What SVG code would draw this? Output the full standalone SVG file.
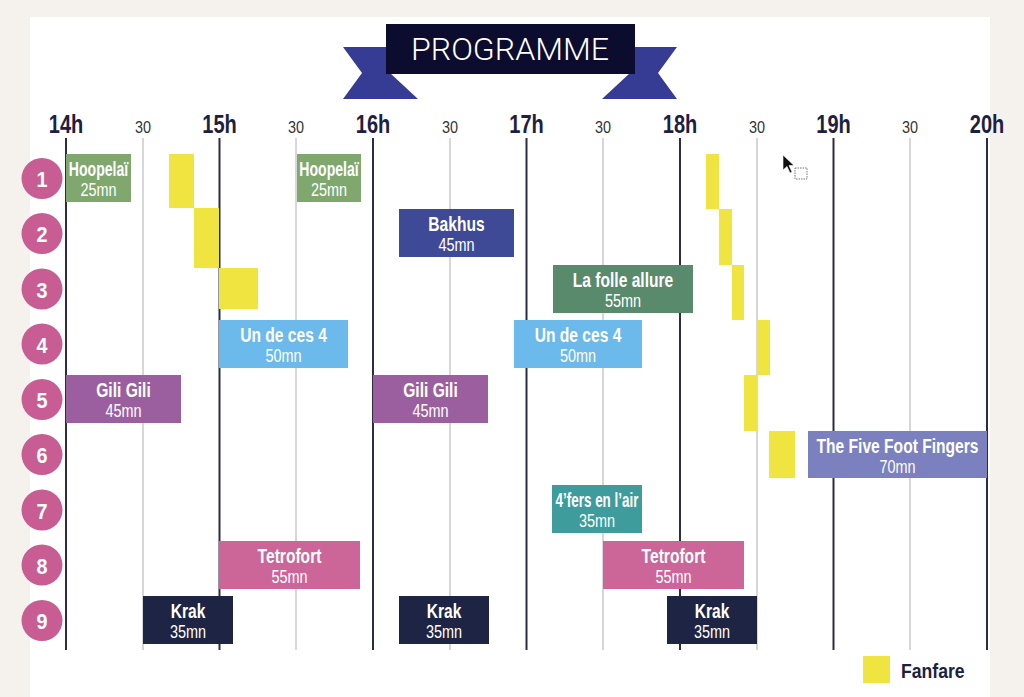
<svg xmlns="http://www.w3.org/2000/svg" width="1024" height="697" viewBox="0 0 1024 697">
<style>
.hr{font-family:"Liberation Sans",Arial,sans-serif;font-weight:bold;font-size:25px;fill:#1e2040;text-anchor:middle}
.hh{font-family:"Liberation Sans",Arial,sans-serif;font-size:17px;fill:#333;text-anchor:middle}
.hl{stroke:#2a2d45;stroke-width:2}
.ml{stroke:#bdbdbd;stroke-width:1.2}
.nm{font-family:"Liberation Sans",Arial,sans-serif;font-weight:bold;font-size:19.5px;fill:#fff;text-anchor:middle}
.du{font-family:"Liberation Sans",Arial,sans-serif;font-size:19px;fill:#fff;text-anchor:middle}
.num{font-family:"Liberation Sans",Arial,sans-serif;font-weight:bold;font-size:22px;fill:#fff;text-anchor:middle}
.circ{fill:#c75d93}
.fan{fill:#f0e540}
.green{fill:#80a86e}
.bakhus{fill:#3f4a96}
.folle{fill:#5a8a6c}
.blue{fill:#6cb9ec}
.gili{fill:#9b5f9f}
.five{fill:#7b80bf}
.fers{fill:#3e9c9c}
.tetro{fill:#cc6598}
.krak{fill:#1e2444}
</style>
<rect x="0" y="0" width="1024" height="697" fill="#f5f2ee"/>
<rect x="30" y="17" width="960" height="680" fill="#ffffff"/>

<g id="banner">
  <polygon points="343,47 390,47 390,73 418,99 343,99 362,73" fill="#363c94"/>
  <polygon points="677,47 630,47 630,73 602,99 677,99 658,73" fill="#363c94"/>
  <rect x="386" y="24" width="249" height="50" fill="#0c0c2e"/>
  <text x="510" y="60" textLength="198" lengthAdjust="spacingAndGlyphs" font-family="Roboto,'Liberation Sans',sans-serif" font-weight="300" font-size="32" fill="#ffffff" text-anchor="middle">PROGRAMME</text>
</g>

<g id="axis">
  <line class="ml" x1="143" y1="138" x2="143" y2="650"/>
  <line class="ml" x1="296" y1="138" x2="296" y2="650"/>
  <line class="ml" x1="450" y1="138" x2="450" y2="650"/>
  <line class="ml" x1="603" y1="138" x2="603" y2="650"/>
  <line class="ml" x1="757" y1="138" x2="757" y2="650"/>
  <line class="ml" x1="910" y1="138" x2="910" y2="650"/>
  <line class="hl" x1="66" y1="138" x2="66" y2="650"/>
  <line class="hl" x1="219.5" y1="138" x2="219.5" y2="650"/>
  <line class="hl" x1="373" y1="138" x2="373" y2="650"/>
  <line class="hl" x1="526.5" y1="138" x2="526.5" y2="650"/>
  <line class="hl" x1="680" y1="138" x2="680" y2="650"/>
  <line class="hl" x1="833.5" y1="138" x2="833.5" y2="650"/>
  <line class="hl" x1="987" y1="138" x2="987" y2="650"/>
  <text class="hr" transform="translate(66,133) scale(0.8,1)">14h</text>
  <text class="hr" transform="translate(219.5,133) scale(0.8,1)">15h</text>
  <text class="hr" transform="translate(373,133) scale(0.8,1)">16h</text>
  <text class="hr" transform="translate(526.5,133) scale(0.8,1)">17h</text>
  <text class="hr" transform="translate(680,133) scale(0.8,1)">18h</text>
  <text class="hr" transform="translate(833.5,133) scale(0.8,1)">19h</text>
  <text class="hr" transform="translate(987,133) scale(0.8,1)">20h</text>
  <text class="hh" transform="translate(143,133) scale(0.85,1)">30</text>
  <text class="hh" transform="translate(296,133) scale(0.85,1)">30</text>
  <text class="hh" transform="translate(450,133) scale(0.85,1)">30</text>
  <text class="hh" transform="translate(603,133) scale(0.85,1)">30</text>
  <text class="hh" transform="translate(757,133) scale(0.85,1)">30</text>
  <text class="hh" transform="translate(910,133) scale(0.85,1)">30</text>
</g>

<g id="rows">
  <circle class="circ" cx="42" cy="178.5" r="20.5"/><text class="num" transform="translate(42,187) scale(0.9,1)">1</text>
  <circle class="circ" cx="42" cy="233.5" r="20.5"/><text class="num" transform="translate(42,242) scale(0.9,1)">2</text>
  <circle class="circ" cx="42" cy="289" r="20.5"/><text class="num" transform="translate(42,297.5) scale(0.9,1)">3</text>
  <circle class="circ" cx="42" cy="344" r="20.5"/><text class="num" transform="translate(42,352.5) scale(0.9,1)">4</text>
  <circle class="circ" cx="42" cy="399.5" r="20.5"/><text class="num" transform="translate(42,408) scale(0.9,1)">5</text>
  <circle class="circ" cx="42" cy="454.5" r="20.5"/><text class="num" transform="translate(42,463) scale(0.9,1)">6</text>
  <circle class="circ" cx="42" cy="510" r="20.5"/><text class="num" transform="translate(42,518.5) scale(0.9,1)">7</text>
  <circle class="circ" cx="42" cy="565" r="20.5"/><text class="num" transform="translate(42,573.5) scale(0.9,1)">8</text>
  <circle class="circ" cx="42" cy="620.5" r="20.5"/><text class="num" transform="translate(42,629) scale(0.9,1)">9</text>
</g>

<g id="fanfares">
  <rect class="fan" x="169" y="154" width="25" height="54"/>
  <rect class="fan" x="194" y="208" width="25" height="60"/>
  <rect class="fan" x="219" y="268" width="39" height="41"/>
  <rect class="fan" x="706" y="154" width="13" height="55"/>
  <rect class="fan" x="719" y="209" width="13" height="56"/>
  <rect class="fan" x="732" y="265" width="12" height="55"/>
  <rect class="fan" x="757" y="320" width="13" height="55"/>
  <rect class="fan" x="744" y="375" width="13" height="56"/>
  <rect class="fan" x="769" y="431" width="26" height="47"/>
</g>

<g id="hoopelai-1"><rect class="green" x="66" y="154" width="65" height="48"/><text class="nm" transform="translate(98.5,175.5) scale(0.72,1)">Hoopelaï</text><text class="du" transform="translate(98.5,195.5) scale(0.76,1)">25mn</text></g>
<g id="hoopelai-2"><rect class="green" x="297" y="154" width="64" height="48"/><text class="nm" transform="translate(329,175.5) scale(0.72,1)">Hoopelaï</text><text class="du" transform="translate(329,195.5) scale(0.76,1)">25mn</text></g>
<g id="bakhus"><rect class="bakhus" x="399" y="209" width="115" height="48"/><text class="nm" transform="translate(456.5,231) scale(0.8,1)">Bakhus</text><text class="du" transform="translate(456.5,251) scale(0.76,1)">45mn</text></g>
<g id="folle-allure"><rect class="folle" x="553" y="265" width="140" height="48"/><text class="nm" transform="translate(623,286.5) scale(0.8,1)">La folle allure</text><text class="du" transform="translate(623,306.5) scale(0.76,1)">55mn</text></g>
<g id="undeces4-1"><rect class="blue" x="219" y="320" width="129" height="48"/><text class="nm" transform="translate(283.5,341.5) scale(0.8,1)">Un de ces 4</text><text class="du" transform="translate(283.5,361.5) scale(0.76,1)">50mn</text></g>
<g id="undeces4-2"><rect class="blue" x="514" y="320" width="128" height="48"/><text class="nm" transform="translate(578,341.5) scale(0.8,1)">Un de ces 4</text><text class="du" transform="translate(578,361.5) scale(0.76,1)">50mn</text></g>
<g id="gili-1"><rect class="gili" x="66" y="375" width="115" height="48"/><text class="nm" transform="translate(123.5,396.5) scale(0.8,1)">Gili Gili</text><text class="du" transform="translate(123.5,416.5) scale(0.76,1)">45mn</text></g>
<g id="gili-2"><rect class="gili" x="373" y="375" width="115" height="48"/><text class="nm" transform="translate(430.5,396.5) scale(0.8,1)">Gili Gili</text><text class="du" transform="translate(430.5,416.5) scale(0.76,1)">45mn</text></g>
<g id="five-foot-fingers"><rect class="five" x="808" y="431" width="179" height="47"/><text class="nm" transform="translate(897.5,452.5) scale(0.8,1)">The Five Foot Fingers</text><text class="du" transform="translate(897.5,472.5) scale(0.76,1)">70mn</text></g>
<g id="quatre-fers"><rect class="fers" x="552" y="485" width="90" height="48"/><text class="nm" transform="translate(597,506.5) scale(0.69,1)">4’fers en l’air</text><text class="du" transform="translate(597,526.5) scale(0.76,1)">35mn</text></g>
<g id="tetrofort-1"><rect class="tetro" x="219" y="541" width="141" height="48"/><text class="nm" transform="translate(289.5,562.5) scale(0.8,1)">Tetrofort</text><text class="du" transform="translate(289.5,582.5) scale(0.76,1)">55mn</text></g>
<g id="tetrofort-2"><rect class="tetro" x="603" y="541" width="141" height="48"/><text class="nm" transform="translate(673.5,562.5) scale(0.8,1)">Tetrofort</text><text class="du" transform="translate(673.5,582.5) scale(0.76,1)">55mn</text></g>
<g id="krak-1"><rect class="krak" x="143" y="596" width="90" height="48"/><text class="nm" transform="translate(188,617.5) scale(0.8,1)">Krak</text><text class="du" transform="translate(188,637.5) scale(0.76,1)">35mn</text></g>
<g id="krak-2"><rect class="krak" x="399" y="596" width="90" height="48"/><text class="nm" transform="translate(444,617.5) scale(0.8,1)">Krak</text><text class="du" transform="translate(444,637.5) scale(0.76,1)">35mn</text></g>
<g id="krak-3"><rect class="krak" x="667" y="596" width="90" height="48"/><text class="nm" transform="translate(712,617.5) scale(0.8,1)">Krak</text><text class="du" transform="translate(712,637.5) scale(0.76,1)">35mn</text></g>

<g id="legend">
  <rect class="fan" x="863" y="656" width="27" height="27"/>
  <text transform="translate(901,678) scale(0.84,1)" font-family="'Liberation Sans',Arial,sans-serif" font-weight="bold" font-size="21" fill="#1e2040">Fanfare</text>
</g>

<g id="cursor">
  <polygon points="783,155 783,170 787,166.5 790,173 792,172 789,165.5 794,165.5" fill="#111" stroke="#fff" stroke-width="0.6"/>
  <rect x="795" y="168" width="12" height="11" fill="none" stroke="#777" stroke-width="1" stroke-dasharray="1.5,1"/>
</g>

<g id="connectors"></g>
</svg>
